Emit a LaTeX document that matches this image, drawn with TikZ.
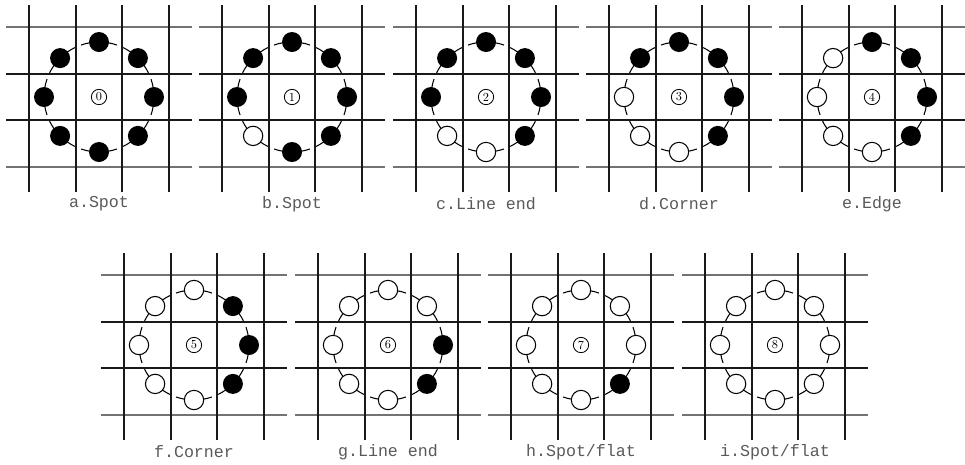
\documentclass[tikz,border=0pt]{standalone}
\usepackage{fontspec}
\setmonofont{Liberation Mono}
\usepackage{tikz}

% one neighbourhood: #1,#2 centre, #3 name, #4 centre digit, #5 caption, #6 pixel states (1 = dark)
\newcommand{\pixpanel}[6]{%
  \begin{scope}[shift={(#1,#2)}]
    \foreach \gy in {-23,23} \draw[gridline] (-93,\gy) -- (93,\gy);
    \foreach \gy in {-70,70} \draw[edgeline] (-93,\gy) -- (93,\gy);
    \foreach \gx in {-70,-23,23,70} \draw[gridline] (\gx,-95) -- (\gx,92);
    \foreach \ang in {0,45,...,315}
      \draw[ring] (\ang-19:55) arc[start angle=\ang-19, end angle=\ang+19, radius=1.65cm];
    \foreach \st [count=\i] in {#6} {
      \pgfmathsetmacro\ang{135-45*\i}
      \ifnum\st=1
        \node[darkpix] (#3-\i) at (\ang:55) {};
      \else
        \node[lightpix] (#3-\i) at (\ang:55) {};
      \fi
    }
    \node[centre] (#3-c) at (0,0) {#4};
    \node[caption] (#3-lab) at (0,-107) {#5};
  \end{scope}}

\begin{document}
\begin{tikzpicture}[
        x=0.03cm, y=0.03cm,
        gridline/.style={line width=1.1pt, black!90},
        edgeline/.style={line width=2.4pt, black!55},
        ring/.style={line width=0.9pt, black},
        darkpix/.style={circle, fill=black, inner sep=0pt, minimum size=0.6cm},
        lightpix/.style={circle, draw, line width=0.9pt, fill=white, inner sep=0pt, minimum size=0.58cm},
        centre/.style={circle, draw, line width=0.7pt, inner sep=0pt, minimum size=0.46cm,
                       font=\fontsize{10.5}{11}\selectfont},
        caption/.style={font=\ttfamily\fontsize{14.2}{15}\selectfont, text=black!65},
    ]
    \useasboundingbox (0,0) rectangle (965,-464);

    % top row
    \pixpanel{99}{-97}{a}{0}{a.Spot}{1,1,1,1,1,1,1,1}
    \pixpanel{292}{-97}{b}{1}{b.Spot}{1,1,1,1,1,0,1,1}
    \pixpanel{486}{-97}{c}{2}{c.Line end}{1,1,1,1,0,0,1,1}
    \pixpanel{679}{-97}{d}{3}{d.Corner}{1,1,1,1,0,0,0,1}
    \pixpanel{872}{-97}{e}{4}{e.Edge}{1,1,1,1,0,0,0,0}

    % bottom row
    \pixpanel{194}{-345}{f}{5}{f.Corner}{0,1,1,1,0,0,0,0}
    \pixpanel{388}{-345}{g}{6}{g.Line end}{0,0,1,1,0,0,0,0}
    \pixpanel{581}{-345}{h}{7}{h.Spot/flat}{0,0,0,1,0,0,0,0}
    \pixpanel{775}{-345}{i}{8}{i.Spot/flat}{0,0,0,0,0,0,0,0}
\end{tikzpicture}
\end{document}
